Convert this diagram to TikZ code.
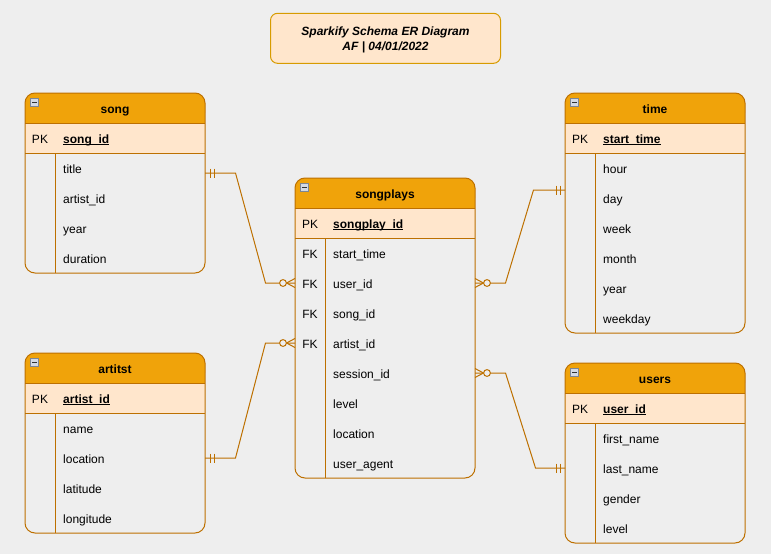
\documentclass[tikz,border=0pt]{standalone}
\usepackage{fontspec}
\setmainfont{Liberation Sans}
\usetikzlibrary{calc}

\definecolor{bgc}{HTML}{EEEEEE}
\definecolor{erhead}{HTML}{F0A30A}
\definecolor{erpk}{HTML}{FFE6CC}
\definecolor{erline}{HTML}{BD7000}
\definecolor{titleline}{HTML}{D79B00}
\definecolor{iconfill}{HTML}{D4DAE4}
\definecolor{icondraw}{HTML}{7D8694}

% underline drawn just under the baseline
\newcommand\pkul[1]{\setbox0\hbox{#1}\rlap{\rule[-1.7pt]{\wd0}{0.9pt}}\box0}

\tikzset{
  txt/.style={inner sep=0pt, font=\fontsize{12pt}{14pt}\selectfont},
  hdrtxt/.style={txt, anchor=base, font=\fontsize{12pt}{14pt}\selectfont\bfseries},
  keytxt/.style={txt, anchor=base},
  fldtxt/.style={txt, anchor=base west},
  tblline/.style={draw=erline, line width=1pt},
  rel/.style={draw=erline, line width=1pt},
}

% #1 id, #2 left x, #3 top y, #4 number of rows, #5 title, #6 primary key, #7 key/field rows
\newcommand\ertable[7]{%
  \fill[erhead, rounded corners=10] (#2,#3) rectangle (#2+180,#3+30);
  \fill[erhead] (#2,#3+15) rectangle (#2+180,#3+30);
  \fill[erpk] (#2,#3+30) rectangle (#2+180,#3+60);
  \draw[tblline] (#2,#3+30) -- (#2+180,#3+30);
  \draw[tblline] (#2,#3+60) -- (#2+180,#3+60);
  \draw[tblline] (#2+30,#3+60) -- (#2+30,#3+60+30*#4);
  \draw[tblline, rounded corners=10] (#2,#3) rectangle (#2+180,#3+60+30*#4);
  \draw[fill=iconfill, draw=icondraw, line width=0.8pt] (#2+5,#3+5) rectangle ++(8.5,8.5);
  \draw[draw=black!80, line width=1pt] (#2+7,#3+9.25) -- (#2+11.5,#3+9.25);
  \node[hdrtxt] (#1) at (#2+90,#3+20) {#5};
  \node[keytxt] (#1-pkk) at (#2+15,#3+50) {PK};
  \node[fldtxt, font=\fontsize{12pt}{14pt}\selectfont\bfseries] (#1-pk) at (#2+38,#3+50) {\pkul{#6}};
  \foreach \k/\f [count=\i] in {#7} {
    \node[keytxt] (#1-k\i) at (#2+15,#3+50+30*\i) {\k};
    \node[fldtxt] (#1-f\i) at (#2+38,#3+50+30*\i) {\f};
    \coordinate (#1-\i-w) at (#2,#3+45+30*\i);
    \coordinate (#1-\i-e) at (#2+180,#3+45+30*\i);
  }
}

% mandatory-one end: #1 name of a point on the table edge, #2 side (+1 right, -1 left)
\newcommand\mandone[2]{%
  \draw[rel] ([shift={(#2*5,-4.5)}]#1) -- ([shift={(#2*5,4.5)}]#1);
  \draw[rel] ([shift={(#2*9,-4.5)}]#1) -- ([shift={(#2*9,4.5)}]#1);
}
% zero-to-many end: #1 name of a point on the table edge, #2 side (+1 right, -1 left)
\newcommand\zeromany[2]{%
  \draw[rel] ([shift={(#2*8.5,0)}]#1) -- ([shift={(0,-4.5)}]#1);
  \draw[rel] ([shift={(#2*8.5,0)}]#1) -- ([shift={(0,4.5)}]#1);
  \draw[rel, fill=bgc] ([shift={(#2*12,0)}]#1) circle (3.4);
}

\begin{document}
\begin{tikzpicture}[x=1pt, y=-1pt]
  \fill[bgc] (0,0) rectangle (771,554);
  \path[use as bounding box] (0,0) rectangle (771,554);

  % title box
  \node[draw=titleline, fill=erpk, line width=1pt, rounded corners=7,
        minimum width=230, minimum height=50, inner sep=0pt] (title) at (385.5,38.3) {};
  \node[txt, anchor=base, font=\fontsize{12pt}{14pt}\selectfont\bfseries\itshape] (title1)
       at (385.5,35.5) {Sparkify Schema ER Diagram};
  \node[txt, anchor=base, font=\fontsize{12pt}{14pt}\selectfont\bfseries\itshape] (title2)
       at (385.5,50) {AF | 04/01/2022};

  % tables
  \ertable{song}{25}{93}{4}{song}{song\_id}
    {{}/title, {}/artist\_id, {}/year, {}/duration}
  \ertable{sp}{295}{178}{8}{songplays}{songplay\_id}
    {FK/start\_time, FK/user\_id, FK/song\_id, FK/artist\_id,
     {}/session\_id, {}/level, {}/location, {}/user\_agent}
  \ertable{time}{565}{93}{6}{time}{start\_time}
    {{}/hour, {}/day, {}/week, {}/month, {}/year, {}/weekday}
  \ertable{art}{25}{353}{4}{artitst}{artist\_id}
    {{}/name, {}/location, {}/latitude, {}/longitude}
  \ertable{users}{565}{363}{4}{users}{user\_id}
    {{}/first\_name, {}/last\_name, {}/gender, {}/level}

  \coordinate (song-out) at (205,173);
  \coordinate (time-out) at (565,190);

  % relationships
  \draw[rel] (song-out) -- ++(30.5,0) -- ([xshift=-29.5pt]sp-2-w) -- (sp-2-w);
  \draw[rel] (time-out) -- ++(-31.5,0) -- ([xshift=30.5pt]sp-2-e) -- (sp-2-e);
  \draw[rel] (art-2-e) -- ++(30.5,0) -- ([xshift=-29.5pt]sp-4-w) -- (sp-4-w);
  \draw[rel] (users-2-w) -- ++(-29.5,0) -- ([xshift=30.5pt]sp-5-e) -- (sp-5-e);

  \mandone{song-out}{1}
  \mandone{time-out}{-1}
  \mandone{art-2-e}{1}
  \mandone{users-2-w}{-1}
  \zeromany{sp-2-w}{-1}
  \zeromany{sp-2-e}{1}
  \zeromany{sp-4-w}{-1}
  \zeromany{sp-5-e}{1}
\end{tikzpicture}
\end{document}
